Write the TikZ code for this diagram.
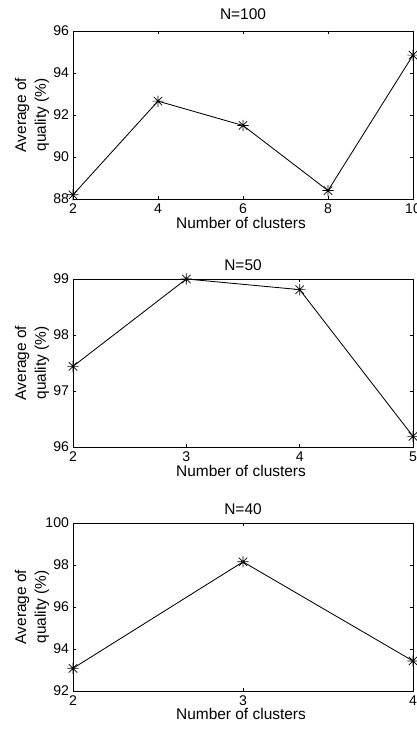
\documentclass[tikz,border=0pt]{standalone}
\usepackage{fontspec}
\setmainfont{Liberation Sans}
\begin{document}
\begin{tikzpicture}[line width=0.6pt,
	every node/.style={font=\fontsize{11}{14}\selectfont},
	ticklab/.style={font=\fontsize{10}{11}\selectfont,inner sep=1.2pt},
	ylab/.style={rotate=90,align=center},
	ast/.pic={\draw[line width=0.5pt] (-4pt,0pt)--(4pt,0pt) (0pt,-4pt)--(0pt,4pt) (-3pt,-3pt)--(3pt,3pt) (-3pt,3pt)--(3pt,-3pt);}]
	\useasboundingbox (0,0) rectangle (10.425,18.275);
	% N=100
	\begin{scope}[shift={(1.825,13.3)}]
		\draw (0,0) rectangle (8.5,4.2);
		\foreach \v [count=\i from 0] in {2,4,6,8,10} {
			\draw (\i*2.125,0) -- ++(0,0.08) (\i*2.125,4.2) -- ++(0,-0.08);
			\node[ticklab,below] (xa\i) at (\i*2.125,-0.06) {\v};
		}
		\foreach \v [count=\i from 0] in {88,90,92,94,96} {
			\draw (0,\i*1.05) -- ++(0.08,0) (8.5,\i*1.05) -- ++(-0.08,0);
			\node[ticklab,left] (ya\i) at (-0.05,\i*1.05) {\v};
		}
		\node (ta) at (4.25,4.62) {N=100};
		\node (la) at (4.2,-0.6) {Number of clusters};
		\node[ylab] (qa) at (-1.025,2.1) {Average of\\quality (\%)};
		\begin{scope}[x=1.0625cm,y=0.525cm,shift={(-2,-88)}]
			\coordinate (a1) at (2,88.2);
			\coordinate (a2) at (4,92.66);
			\coordinate (a3) at (6,91.5);
			\coordinate (a4) at (8,88.4);
			\coordinate (a5) at (10,94.85);
			\draw (a1) -- (a2) -- (a3) -- (a4) -- (a5);
			\foreach \i in {1,...,5} \pic at (a\i) {ast};
		\end{scope}
	\end{scope}
	% N=50
	\begin{scope}[shift={(1.825,7.1)}]
		\draw (0,0) rectangle (8.5,4.2);
		\foreach \v [count=\i from 0] in {2,3,4,5} {
			\draw (\i*2.8333,0) -- ++(0,0.08) (\i*2.8333,4.2) -- ++(0,-0.08);
			\node[ticklab,below] (xb\i) at (\i*2.8333,-0.06) {\v};
		}
		\foreach \v [count=\i from 0] in {96,97,98,99} {
			\draw (0,\i*1.4) -- ++(0.08,0) (8.5,\i*1.4) -- ++(-0.08,0);
			\node[ticklab,left] (yb\i) at (-0.05,\i*1.4) {\v};
		}
		\node (tb) at (4.25,4.55) {N=50};
		\node (lb) at (4.2,-0.6) {Number of clusters};
		\node[ylab] (qb) at (-1.025,2.1) {Average of\\quality (\%)};
		\begin{scope}[x=2.8333cm,y=1.4cm,shift={(-2,-96)}]
			\coordinate (b1) at (2,97.44);
			\coordinate (b2) at (3,99.0);
			\coordinate (b3) at (4,98.81);
			\coordinate (b4) at (5,96.19);
			\draw (b1) -- (b2) -- (b3) -- (b4);
			\foreach \i in {1,...,4} \pic at (b\i) {ast};
		\end{scope}
	\end{scope}
	% N=40
	\begin{scope}[shift={(1.825,1.0)}]
		\draw (0,0) rectangle (8.5,4.2);
		\foreach \v [count=\i from 0] in {2,3,4} {
			\draw (\i*4.25,0) -- ++(0,0.08) (\i*4.25,4.2) -- ++(0,-0.08);
			\node[ticklab,below] (xc\i) at (\i*4.25,-0.06) {\v};
		}
		\foreach \v [count=\i from 0] in {92,94,96,98,100} {
			\draw (0,\i*1.05) -- ++(0.08,0) (8.5,\i*1.05) -- ++(-0.08,0);
			\node[ticklab,left] (yc\i) at (-0.05,\i*1.05) {\v};
		}
		\node (tc) at (4.25,4.55) {N=40};
		\node (lc) at (4.2,-0.58) {Number of clusters};
		\node[ylab] (qc) at (-1.025,2.1) {Average of\\quality (\%)};
		\begin{scope}[x=4.25cm,y=0.525cm,shift={(-2,-92)}]
			\coordinate (c1) at (2,93.08);
			\coordinate (c2) at (3,98.15);
			\coordinate (c3) at (4,93.43);
			\draw (c1) -- (c2) -- (c3);
			\foreach \i in {1,...,3} \pic at (c\i) {ast};
		\end{scope}
	\end{scope}
\end{tikzpicture}
\end{document}
